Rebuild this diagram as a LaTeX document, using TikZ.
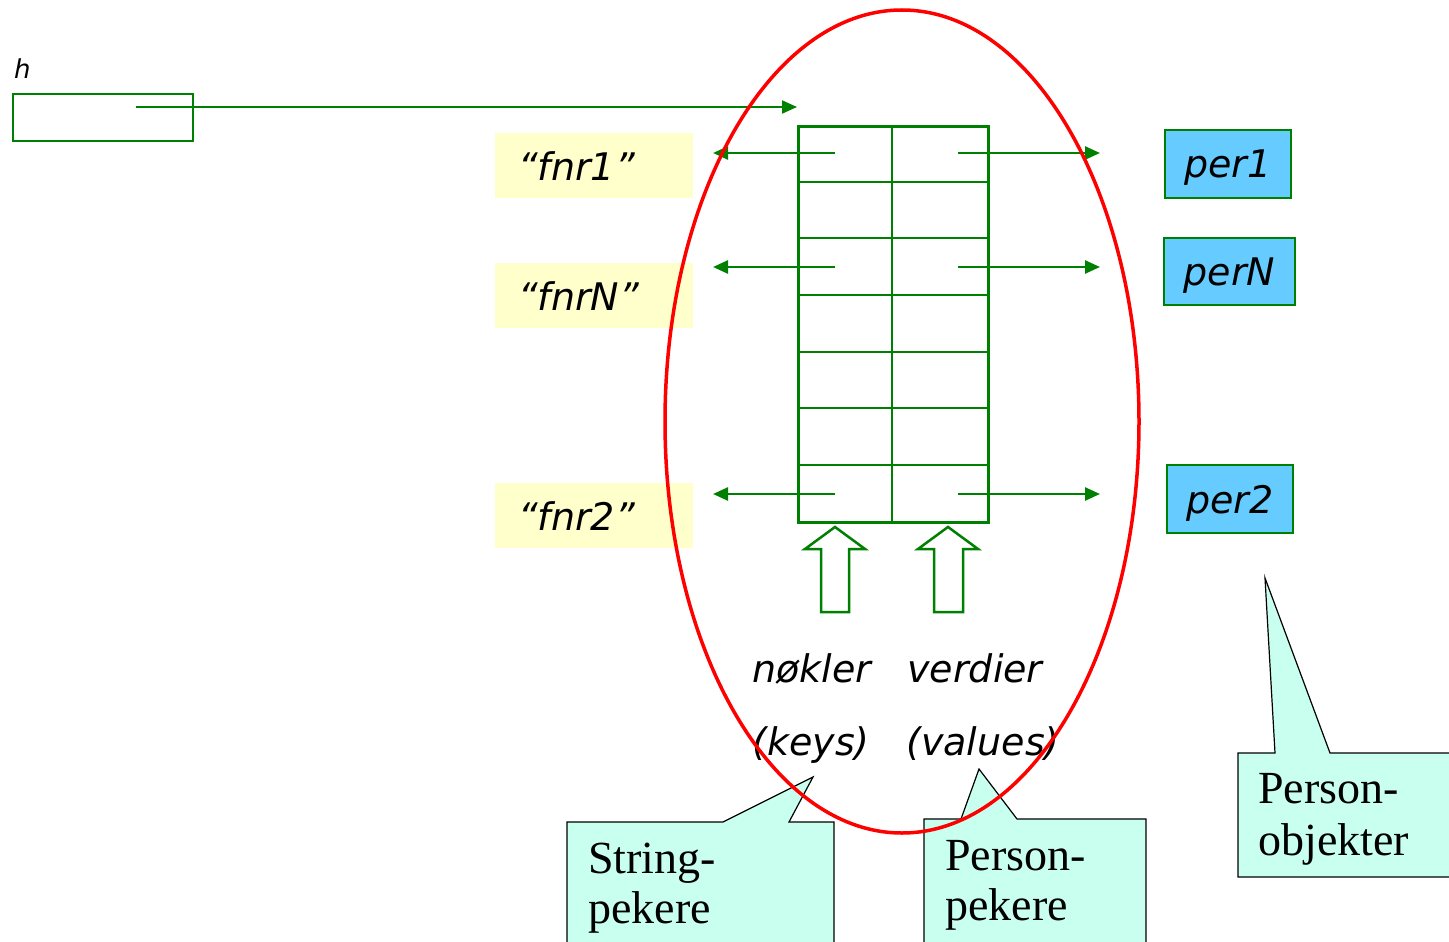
\documentclass[tikz,border=0pt]{standalone}
\usepackage{fontspec}
\setmainfont{Liberation Serif}
\newfontfamily\vfont{DejaVu Sans}
\usetikzlibrary{arrows.meta}
\definecolor{dgreen}{HTML}{008000}
\definecolor{keyyellow}{HTML}{FFFFCC}
\definecolor{perblue}{HTML}{66CCFF}
\definecolor{callfill}{HTML}{C8FFEE}
\begin{document}
\begin{tikzpicture}[x=1pt,y=-1pt,
  gline/.style={draw=dgreen,line width=2.5pt},
  garrow/.style={gline,-{Triangle[length=15pt,width=13pt]}},
  vtext/.style={font=\vfont\itshape\fontsize{38}{44}\selectfont,inner sep=0pt},
  keybox/.style={fill=keyyellow,vtext,anchor=north west,minimum height=65pt,
    text width=152pt,inner xsep=23pt,inner ysep=0pt,align=left,text depth=0pt},
  perbox/.style={fill=perblue,draw=dgreen,line width=2pt,vtext,text depth=0pt},
  callout/.style={fill=callfill,draw=black,line width=1.2pt,line join=miter},
  ctext/.style={font=\fontsize{46}{50}\selectfont,inner sep=0pt,anchor=base west},
  blockarrow/.style={draw=dgreen,line width=2.5pt,fill=white,line join=miter}]
\useasboundingbox (0,0) rectangle (1449,942);
\fill[white] (0,0) rectangle (1449,942);

% h variable
\node[font=\vfont\itshape\fontsize{26}{30}\selectfont,inner sep=0pt,anchor=base west] (hlabel) at (14,78) {h};
\node[draw=dgreen,line width=2pt,minimum width=180pt,minimum height=47pt,inner sep=0pt,anchor=north west] (hbox) at (12,93) {};
\coordinate (hstart) at (136,107);
\coordinate (hend) at (797,107);
\draw[draw=dgreen,line width=2pt,-{Triangle[length=15pt,width=13pt]}] (hstart) -- (hend);

% key boxes
\node[keybox] (k1) at (495,133) {“fnr1”};
\node[keybox] (kN) at (495,263) {“fnrN”};
\node[keybox] (k2) at (495,483) {“fnr2”};

% person boxes
\node[perbox,minimum width=126pt,minimum height=68pt] (p1) at (1228,164) {per1};
\node[perbox,minimum width=131pt,minimum height=67pt] (pN) at (1229.5,271.5) {perN};
\node[perbox,minimum width=126pt,minimum height=68pt] (p2) at (1230,499) {per2};

% table
\node[draw=dgreen,line width=2.5pt,minimum width=190pt,minimum height=396pt,inner sep=0pt,anchor=north west] (tbl) at (797,125) {};
\draw[gline] (892,125) -- (892,521);
\foreach \y in {182,238,295,352,408,465} \draw[gline] (797,\y) -- (987,\y);

% pointer arrows
\coordinate (ks1) at (835,153); \coordinate (kt1) at (713,153);
\coordinate (ksN) at (835,267); \coordinate (ktN) at (713,267);
\coordinate (ks2) at (835,494); \coordinate (kt2) at (713,494);
\coordinate (vs1) at (958,153); \coordinate (vt1) at (1100,153);
\coordinate (vsN) at (958,267); \coordinate (vtN) at (1100,267);
\coordinate (vs2) at (958,494); \coordinate (vt2) at (1100,494);
\draw[garrow] (ks1) -- (kt1);
\draw[garrow] (ksN) -- (ktN);
\draw[garrow] (ks2) -- (kt2);
\draw[garrow] (vs1) -- (vt1);
\draw[garrow] (vsN) -- (vtN);
\draw[garrow] (vs2) -- (vt2);

% block arrows
\draw[blockarrow] (835,527) -- (865,549) -- (849,549) -- (849,612) -- (821,612) -- (821,549) -- (805,549) -- cycle;
\draw[blockarrow] (948,527) -- (978,549) -- (963,549) -- (963,612) -- (934,612) -- (934,549) -- (918,549) -- cycle;

% labels
\node[vtext,anchor=base] (nk) at (812,682) {nøkler};
\node[vtext,anchor=base] (vd) at (975,682) {verdier};
\node[vtext,anchor=base] (ky) at (811,755) {(keys)};
\node[vtext,anchor=base] (vl) at (983,755) {(values)};

% callouts
\draw[callout] (567,950) -- (567,822) -- (723,822) -- (813,777) -- (789,822) -- (834,822) -- (834,950);
\node[ctext] (c1a) at (588,873) {String-};
\node[ctext] (c1b) at (588,923) {pekere};

\draw[callout] (924,950) -- (924,819) -- (961,819) -- (979,769) -- (1017,819) -- (1146,819) -- (1146,950);
\node[ctext] (c2a) at (945,870) {Person-};
\node[ctext] (c2b) at (945,920) {pekere};

\draw[callout] (1460,877) -- (1238,877) -- (1238,753) -- (1275,753) -- (1265,578) -- (1330,753) -- (1460,753);
\node[ctext] (c3a) at (1258,803) {Person-};
\node[ctext] (c3b) at (1258,855) {objekter};

% ellipse
\draw[red,line width=3.5pt] (902,421.5) ellipse [x radius=237pt,y radius=411.5pt];
\end{tikzpicture}
\end{document}
